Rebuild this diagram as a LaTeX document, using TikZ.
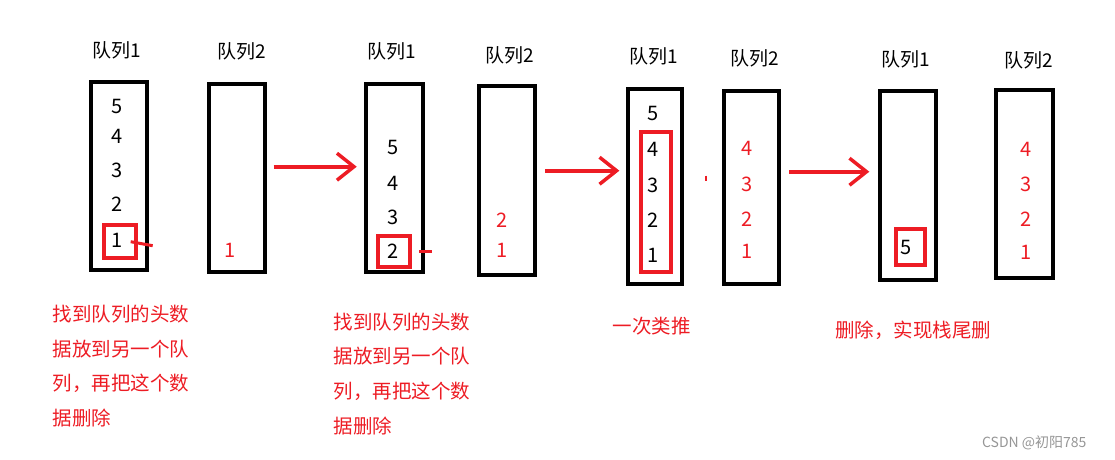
\documentclass[tikz,border=0pt]{standalone}
\usepackage{fontspec}
\setmainfont{Noto Sans CJK SC}
\usetikzlibrary{arrows.meta, positioning}
\definecolor{paintred}{RGB}{237, 28, 36}
\definecolor{wmgray}{RGB}{150, 150, 150}

\begin{document}
\begin{tikzpicture}[
        x=1pt, y=-1pt,
        qbox/.style={rectangle, draw, line width=4pt,
                     minimum width=56pt, minimum height=188pt, inner sep=0pt},
        pick/.style={rectangle, draw=paintred, line width=4pt, inner sep=0pt},
        qlabel/.style={font=\fontsize{19}{22}\selectfont, inner sep=0pt},
        num/.style={font=\fontsize{20}{22}\selectfont, inner sep=0pt},
        moved/.style={num, text=paintred},
        note/.style={font=\fontsize{19.5}{34.6}\selectfont, text=paintred,
                     align=left, inner sep=0pt},
        flow/.style={-{Straight Barb[length=17pt, width=27pt, line width=3.5pt]},
                     draw=paintred, line width=4pt},
        tick/.style={draw=paintred, line width=3pt},
    ]
    \useasboundingbox (0,0) rectangle (1115,459);

    % ===== 第一步 =====
    \node[qbox] (qa1) at (119.3,176) {};
    \node[qbox] (qa2) at (237.2,177.9) {};
    \node[qlabel] (la1) at (116.7,50.7) {队列1};
    \node[qlabel] (la2) at (241.7,51.7) {队列2};
    \foreach \n/\h in {5/106, 4/136, 3/170, 2/204, 1/240}
        \node[num] (a1n\n) at (116.7,\h) {\n};
    \node[moved] (a2n1) at (230,250) {1};
    \node[pick, minimum width=32pt, minimum height=32.7pt] (pk1) at (119.7,241.7) {};
    \draw[tick] ([xshift=-7pt]pk1.east) -- ++(22,4);

    % ===== 第二步 =====
    \node[qbox, minimum width=56.7pt] (qb1) at (394.7,178.3) {};
    \node[qbox, minimum height=188.7pt] (qb2) at (506.7,180.3) {};
    \node[qlabel] (lb1) at (391.7,51.7) {队列1};
    \node[qlabel] (lb2) at (510,55) {队列2};
    \foreach \n/\h in {5/147.3, 4/183.3, 3/217.3, 2/251.7}
        \node[num] (b1n\n) at (392.7,\h) {\n};
    \foreach \n/\h in {2/220.7, 1/250}
        \node[moved] (b2n\n) at (501.7,\h) {\n};
    \node[pick, minimum width=31.7pt, minimum height=31.3pt] (pk2) at (393.9,251.7) {};
    \draw[tick] ([xshift=7.3pt]pk2.east) -- ++(12.7,0);

    % ===== 第三步 =====
    \node[qbox, minimum width=54.3pt, minimum height=194.4pt] (qc1) at (655.2,186.5) {};
    \node[qbox, minimum width=54.4pt, minimum height=192.7pt] (qc2) at (751.5,187.3) {};
    \node[qlabel] (lc1) at (653.3,56.7) {队列1};
    \node[qlabel] (lc2) at (755,58.3) {队列2};
    \foreach \n/\h in {5/113.3, 4/149.3, 3/185, 2/220.7, 1/255}
        \node[num] (c1n\n) at (653.3,\h) {\n};
    \foreach \n/\h in {4/148.3, 3/184, 2/219, 1/251.7}
        \node[moved] (c2n\n) at (746.7,\h) {\n};
    \node[pick, minimum width=29.4pt, minimum height=140.3pt] (pk3) at (656,202.2) {};
    \draw[paintred, line width=1.5pt] (706,175.5) -- (706,180.5);

    % ===== 第四步 =====
    \node[qbox, minimum height=188.4pt] (qd1) at (908.3,185.5) {};
    \node[qbox, minimum width=56.7pt, minimum height=187.7pt] (qd2) at (1024.7,184.2) {};
    \node[qlabel] (ld1) at (906,59.3) {队列1};
    \node[qlabel] (ld2) at (1028.3,60) {队列2};
    \node[num] (d1n5) at (906,247.3) {5};
    \foreach \n/\h in {4/149.3, 3/184, 2/219.3, 1/252.7}
        \node[moved] (d2n\n) at (1026,\h) {\n};
    \node[pick, minimum width=28.4pt, minimum height=35.4pt] (pk4) at (910.5,247) {};

    % 步骤之间的箭头
    \coordinate (ya) at (0,166.7);
    \coordinate (yb) at (0,170.7);
    \coordinate (yc) at (0,171.7);
    \draw[flow, shorten <=6.3pt, shorten >=7.6pt] (qa2.east |- ya) -- (qb1.west |- ya);
    \draw[flow, shorten <=8.3pt, shorten >=6.7pt] (qb2.east |- yb) -- (qc1.west |- yb);
    \draw[flow, shorten <=8.6pt, shorten >=9pt] (qc2.east |- yc) -- (qd1.west |- yc);

    % 说明文字
    \node[note, anchor=north west] (n1) at (52.7,305) {找到队列的头数\\据放到另一个队\\列，再把这个数\\据删除};
    \node[note, anchor=north west] (n2) at (333.3,312.7) {找到队列的头数\\据放到另一个队\\列，再把这个数\\据删除};
    \node[note, anchor=west] (n3) at (612.3,326) {一次类推};
    \node[note, anchor=west] (n4) at (835,330.7) {删除，实现栈尾删};
    \node[font=\fontsize{14}{16}\selectfont, text=wmgray, anchor=east, inner sep=0pt] (wm) at (1086.7,442.7) {CSDN @初阳785};
\end{tikzpicture}
\end{document}
